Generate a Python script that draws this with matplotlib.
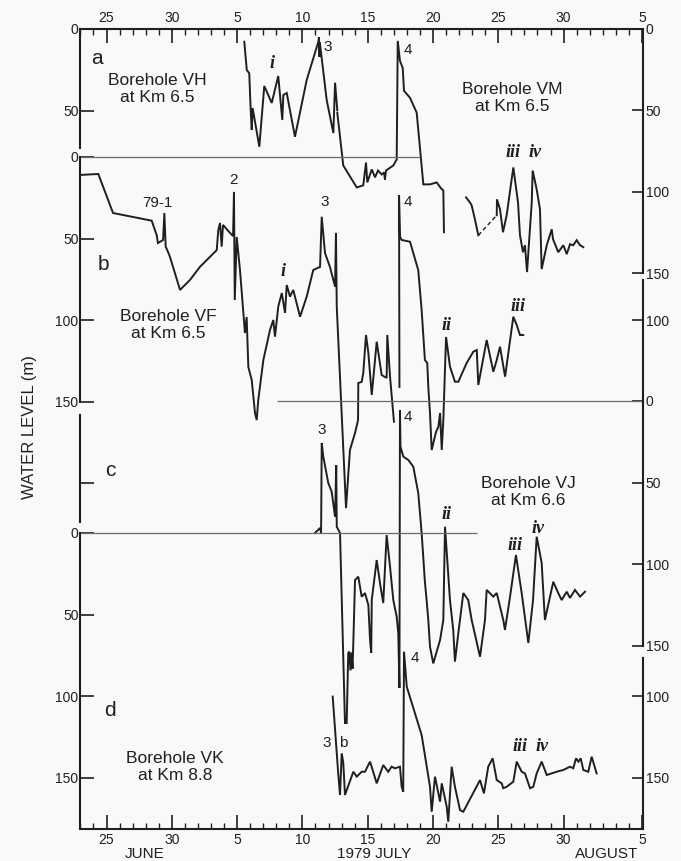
import numpy as np
import matplotlib.pyplot as plt

# time axis: day of July 1979 (June 25 = -5, June 30 = 0, Aug 5 = 36)
# water levels: metres below the surface
nan = np.nan

tick_days = [-5, 0, 5, 10, 15, 20, 25, 30, 36]
tick_labels = ["25", "30", "5", "10", "15", "20", "25", "30", "5"]

vh_day = [5.55, 5.74, 5.93, 6.04, 6.12, 6.19, 6.70, 7.08, 7.65, 8.15, 8.46, 8.54,
          8.80, 9.43, 10.33, 11.22, 11.27, 11.30, 11.33, 11.86, 12.37, 12.50, 12.67]
vh_level = [7.8, 25.1, 27.1, 49.6, 61.8, 48.4, 72.1, 34.9, 45.3, 28.8, 55.7, 40.4,
            39.2, 66.0, 31.2, 7.8, 5.0, 17.0, 8.0, 43.5, 63.7, 32.9, 49.6]

vm_day = [12.67, 13.13, 14.16, 14.66, 14.87, 14.97, 15.31, 15.56, 15.79, 16.07, 16.25,
          16.32, 16.40, 16.96, 17.22, 17.30, 17.47, 17.68, 17.78, 18.24, 18.75, 19.26,
          19.77, 20.28, 20.62, 20.79, 20.84, nan,
          22.53, 22.83, 22.96, 23.21, 23.47, nan,
          24.88, 24.90, 25.13, 25.36, 25.64, 26.15, 26.51, 26.66, 26.89, 27.04, 27.20,
          27.56, 27.63, 27.94, 28.19, 28.32, 28.71, 29.09, 29.19, 29.59, 29.98, 30.24,
          30.49, 30.74, 31.00, 31.26, 31.51]
vm_level = [51.4, 83.9, 97.4, 96.1, 82.1, 94.3, 86.3, 91.2, 87.0, 89.4, 88.2,
            92.5, 87.0, 83.9, 80.2, 7.3, 19.6, 23.9, 38.0, 42.3, 51.4, 95.5,
            95.5, 94.3, 98.0, 99.2, 124.9, nan,
            103.5, 106.6, 108.4, 117.0, 126.8, nan,
            114.5, 104.7, 110.8, 124.9, 114.5, 85.1, 106.6, 126.8, 137.2, 132.9, 149.4,
            106.6, 87.0, 98.6, 110.8, 147.6, 132.9, 123.1, 129.2, 137.2, 132.9, 138.4,
            132.3, 132.9, 129.8, 132.9, 134.1]
vm_dashed_day = [23.47, 24.88]
vm_dashed_level = [126.8, 114.5]

vf_day = [-7.03, -5.63, -4.50, -1.54, -1.16, -1.06, -0.67, -0.57, -0.47, -0.29,
          -0.14, 0.63, 1.39, 2.16, 3.44, 3.56, 3.69, 3.82, 3.92, 4.46,
          4.69, 4.76, 4.82, 4.97, 5.22, 5.48, 5.60, 5.73, 5.86, 6.12,
          6.37, 6.50, 6.62, 7.01, 7.52, 7.77, 7.90, 8.15, 8.42, 8.67,
          8.80, 9.05, 9.30, 9.82, 10.33, 10.83, 11.35, 11.48, 11.73, 12.11,
          12.50, 12.57, 12.63, 13.34, 13.64, 14.03, 14.26, 14.28, 14.54, 14.66,
          14.87, 15.05, 15.31, 15.69, 16.07, 16.45, 16.50, 16.71, 17.01, nan,
          17.43, 17.40, 17.47, 17.60, 18.24, 18.87, 19.13, 19.38, 19.56, 19.64,
          19.77, 19.90, 20.23, 20.41, 20.54, 20.67, 20.79, 21.00, 21.30, 21.68,
          21.94, 22.58, 23.09, 23.35, 23.47, 24.11, 24.62, 24.88, 25.13, 25.52,
          26.15, 26.41, 26.66, 26.91]
vf_level = [11.0, 10.4, 34.3, 39.0, 47.8, 52.7, 50.8, 34.3, 54.9, 58.1,
            61.2, 81.4, 75.3, 67.2, 57.0, 44.7, 40.4, 54.9, 41.6, 46.5,
            48.4, 21.4, 87.6, 49.0, 69.2, 95.5, 107.8, 98.0, 128.6, 136.6,
            156.8, 161.1, 148.8, 124.3, 105.9, 99.8, 110.0, 91.7, 83.3, 95.5,
            78.4, 85.5, 81.4, 97.8, 85.5, 69.2, 67.3, 36.6, 58.8, 67.3,
            79.4, 46.5, 91.7, 215.0, 179.4, 169.0, 161.1, 138.4, 137.7, 132.3,
            109.0, 120.0, 145.7, 113.1, 133.5, 135.3, 109.0, 134.5, 162.1, nan,
            140.8, 23.3, 48.8, 50.8, 51.9, 69.2, 93.7, 124.3, 126.1, 140.7,
            156.8, 179.4, 168.4, 165.3, 156.8, 179.4, 161.1, 110.2, 128.4, 137.6,
            137.6, 126.1, 119.2, 118.2, 139.6, 112.1, 131.5, 124.3, 116.2, 134.5,
            97.8, 102.9, 109.0, 109.0]

vj_day = [10.96, 11.35, 11.43, 11.48, 11.60, 11.98, 12.24, 12.50, 12.59, 12.63,
          12.88, 13.26, 13.39, 13.51, 13.59, 13.68, 13.76, 13.84, 13.90, 14.03,
          14.28, 14.54, 14.79, 15.05, 15.18, 15.27, 15.31, 15.69, 15.94, 16.19,
          16.45, 16.71, 16.96, 17.22, 17.34, 17.43, 17.47, 17.51, 17.73, 18.11,
          18.49, 18.87, 19.13, 19.38, 19.51, 19.64, 19.77, 20.02, 20.54, 20.79,
          20.92, 21.30, 21.55, 21.68, 21.94, 22.32, 22.70, 22.96, 23.60, 23.98,
          24.11, 24.62, 24.88, 25.38, 25.51, 25.90, 26.35, 26.79, 27.30, 27.66,
          27.94, 28.32, 28.57, 29.21, 29.59, 29.85, 30.24, 30.49, 30.87, 31.26,
          31.64]
vj_level = [80.8, 77.8, 80.8, 25.7, 34.1, 50.2, 55.5, 70.9, 39.2, 77.0,
            80.8, 197.2, 197.2, 154.3, 153.5, 165.0, 154.0, 163.9, 147.5, 109.6,
            107.6, 119.9, 117.6, 124.9, 146.4, 154.3, 121.9, 97.4, 111.5, 123.7,
            82.1, 101.5, 121.9, 132.1, 142.1, 175.7, 5.5, 28.0, 34.1, 36.1,
            40.2, 56.3, 80.8, 110.7, 121.9, 134.1, 150.5, 160.7, 146.4, 134.1,
            77.0, 121.9, 140.2, 159.6, 142.1, 117.6, 121.9, 134.1, 156.6, 134.1,
            115.7, 119.8, 117.6, 134.1, 140.2, 119.8, 94.3, 117.6, 148.2, 121.9,
            83.1, 99.2, 134.1, 110.7, 117.6, 121.9, 116.8, 120.6, 115.7, 119.8,
            116.8]

vk_day = [12.32, 12.75, 12.88, 13.01, 13.13, 13.26, 13.90, 14.16, 14.54, 14.79,
          15.18, 15.69, 16.19, 16.57, 16.83, 17.09, 17.47, 17.60, 17.72, 17.78,
          17.99, 19.13, 19.77, 19.90, 20.15, 20.54, 20.67, 21.05, 21.17, 21.43,
          21.68, 22.07, 22.32, 23.60, 23.90, 24.23, 24.57, 24.88, 25.26, 25.38,
          25.64, 26.15, 26.41, 26.79, 27.04, 27.43, 27.68, 27.94, 28.32, 28.71,
          29.09, 29.47, 29.98, 30.49, 30.74, 30.95, 31.13, 31.31, 31.51, 31.89,
          32.15, 32.53]
vk_level = [100.2, 148.2, 160.4, 134.9, 140.8, 160.4, 146.2, 149.2, 146.2, 146.2,
            140.0, 153.3, 142.1, 146.2, 143.1, 144.1, 143.1, 155.4, 158.4, 72.7,
            94.1, 123.7, 155.4, 170.7, 149.2, 164.5, 153.3, 167.6, 176.8, 143.1,
            155.4, 169.7, 170.7, 151.3, 159.4, 143.1, 138.0, 151.3, 153.3, 156.3,
            155.4, 152.3, 140.0, 146.2, 147.2, 156.3, 155.4, 147.2, 140.0, 148.2,
            147.2, 146.2, 145.1, 143.1, 144.1, 138.0, 140.0, 138.0, 145.1, 146.2,
            137.0, 147.2]

# ---- layout (pixels of a 681 x 861 image) ----
W, H = 681, 861
LEFT, TOP, RIGHT, BOTTOM = 80, 29, 643, 829
PX_PER_M = 1.633
XLIM = (-7.03, 36.08)
ZERO = {"VH": 29, "VM": 26, "VF": 157, "VJ": 401, "VK": 533}
INK = "#1f1f1f"
SANS = ["Liberation Sans Narrow", "Liberation Sans", "DejaVu Sans"]
SERIF = ["Liberation Serif", "DejaVu Serif"]

plt.rcParams["font.family"] = SANS

fig = plt.figure(figsize=(W / 100, H / 100), dpi=100, facecolor="#f9f9f7")
rect = [LEFT / W, 1 - BOTTOM / H, (RIGHT - LEFT) / W, (BOTTOM - TOP) / H]

base = fig.add_axes(rect)
base.set_facecolor("none")
base.set_xlim(*XLIM)
base.set_yticks([])
for side in ("left", "right"):
    base.spines[side].set_visible(False)
for side in ("top", "bottom"):
    base.spines[side].set_linewidth(1.5)
    base.spines[side].set_color(INK)
base.set_xticks(tick_days, tick_labels)
base.set_xticks(np.arange(-7, 37), minor=True)
base.tick_params(axis="x", which="both", direction="in", top=True, bottom=True,
                 labeltop=True, labelbottom=True, color=INK, labelcolor=INK)
base.tick_params(axis="x", which="major", length=10, width=1.2, labelsize=10, pad=3)
base.tick_params(axis="x", which="minor", length=4.5, width=1.0)


def level_axes(key, side=None, bounds=None, ticks=(), labels=None):
    ax = fig.add_axes(rect, sharex=base)
    zero = ZERO[key]
    ax.set_ylim((BOTTOM - zero) / PX_PER_M, (TOP - zero) / PX_PER_M)
    ax.patch.set_visible(False)
    for sp in ax.spines.values():
        sp.set_visible(False)
    ax.tick_params(axis="x", which="both", bottom=False, top=False,
                   labelbottom=False, labeltop=False)
    if side is None:
        ax.set_yticks([])
        return ax
    sp = ax.spines[side]
    sp.set_visible(True)
    sp.set_bounds(*bounds)
    sp.set_linewidth(1.5)
    sp.set_color(INK)
    ax.yaxis.set_ticks_position(side)
    if labels is None:
        labels = [""] * len(ticks)
    ax.set_yticks(list(ticks), labels)
    ax.tick_params(axis="y", direction="in", length=10 if side == "left" else 8,
                   width=1.2, labelsize=10, pad=2 if side == "right" else 1,
                   color=INK, labelcolor=INK)
    return ax


ax_vh = level_axes("VH", "left", (0, 72.8), [0, 50], ["0", "50"])
ax_vm = level_axes("VM", "right", (0, 150), [0, 50, 100, 150], ["0", "50", "100", "150"])
ax_vf = level_axes("VF", "left", (0, 150), [0, 50, 100, 150], ["0", "50", "100", "150"])
level_axes("VF", "right", (75.3, 150.5), [100], ["100"])
ax_vj = level_axes("VJ", "right", (0, 150), [0, 50, 100, 150], ["0", "50", "100", "150"])
level_axes("VJ", "left", (8.6, 74), [50])
ax_vk = level_axes("VK", "left", (0, 181.3), [0, 50, 100, 150], ["0", "50", "100", "150"])
level_axes("VK", "right", (76.5, 181.3), [100, 150], ["100", "150"])

# zero reference lines
ref = dict(color="#6a6a6a", lw=0.9)
ax_vf.hlines(0, XLIM[0], 19.0, **ref)
ax_vj.hlines(0, 8.05, XLIM[1], **ref)
ax_vk.hlines(0, XLIM[0], 23.4, **ref)

line = dict(color=INK, lw=1.4, solid_joinstyle="miter")
ax_vh.plot(vh_day, vh_level, **line)
ax_vm.plot(vm_day, vm_level, **line)
ax_vm.plot(vm_dashed_day, vm_dashed_level, color=INK, lw=1.0, ls=(0, (3, 2)))
ax_vf.plot(vf_day, vf_level, **line)
ax_vj.plot(vj_day, vj_level, **line)
ax_vk.plot(vk_day, vk_level, **line)

# panel letters and borehole names
txt = dict(color=INK, ha="center", va="center")
for ax, t, lv, s in [(ax_vh, -5.75, 17.8, "a"), (ax_vf, -5.25, 66.1, "b"),
                     (ax_vj, -4.73, 42.3, "c"), (ax_vk, -4.73, 108.6, "d")]:
    ax.text(t, lv, s, fontsize=15, **txt)

for ax, t, lv, s in [(ax_vh, -1.13, 36.7, "Borehole VH\nat Km 6.5"),
                     (ax_vm, 26.05, 42.3, "Borehole VM\nat Km 6.5"),
                     (ax_vf, -0.29, 102.9, "Borehole VF\nat Km 6.5"),
                     (ax_vj, 27.27, 55.7, "Borehole VJ\nat Km 6.6"),
                     (ax_vk, 0.25, 143.4, "Borehole VK\nat Km 8.8")]:
    ax.text(t, lv, s, fontsize=12.5, linespacing=1.2, **txt)

# event numbers
for ax, t, lv, s in [(ax_vh, 11.96, 10.8, "3"), (ax_vm, 18.09, 12.7, "4"),
                     (ax_vf, -1.13, 28.2, "79-1"), (ax_vf, 4.69, 14.1, "2"),
                     (ax_vf, 11.73, 27.4, "3"), (ax_vf, 18.09, 27.4, "4"),
                     (ax_vj, 11.48, 17.8, "3"), (ax_vj, 18.09, 9.8, "4"),
                     (ax_vk, 11.86, 128.8, "3"), (ax_vk, 13.13, 128.8, "b"),
                     (ax_vk, 18.62, 76.7, "4")]:
    ax.text(t, lv, s, fontsize=11, **txt)

# roman numerals
for ax, t, lv, s in [(ax_vh, 7.65, 21.0, "i"), (ax_vm, 26.15, 75.9, "iii"),
                     (ax_vm, 27.81, 75.9, "iv"), (ax_vf, 8.51, 70.2, "i"),
                     (ax_vf, 21.05, 102.9, "ii"), (ax_vf, 26.53, 91.7, "iii"),
                     (ax_vj, 21.05, 69.8, "ii"), (ax_vj, 26.28, 88.2, "iii"),
                     (ax_vj, 28.06, 78.0, "iv"), (ax_vk, 26.66, 130.8, "iii"),
                     (ax_vk, 28.32, 130.8, "iv")]:
    ax.text(t, lv, s, fontsize=13, family=SERIF, style="italic", weight="bold", **txt)

fig.text(30 / W, 1 - 427 / H, "WATER LEVEL (m)", rotation=90, fontsize=12,
         color=INK, ha="center", va="center")
for x, s in [(145, "JUNE"), (374, "1979 JULY"), (607, "AUGUST")]:
    fig.text(x / W, 1 - 847 / H, s, fontsize=11, color=INK, ha="center", va="top")

fig.savefig("out.png", dpi=100, facecolor=fig.get_facecolor())
